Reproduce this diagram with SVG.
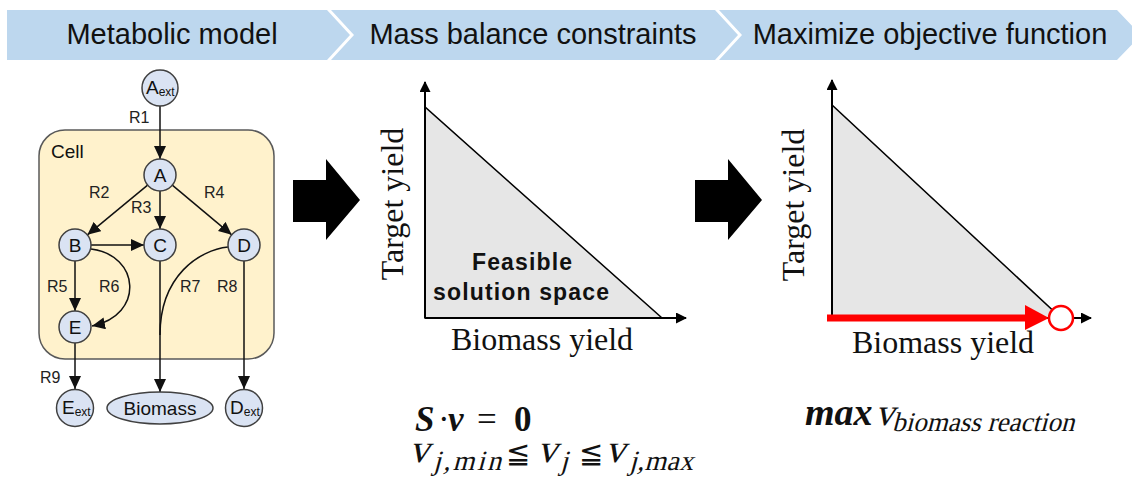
<svg xmlns="http://www.w3.org/2000/svg" width="1132" height="493" viewBox="0 0 1132 493">
<style>
.hdr{fill:#BDD7EE}
.ht{font-family:"Liberation Sans",Arial,sans-serif;font-size:29px;fill:#111}
.nd{fill:#DAE3F3;stroke:#404040;stroke-width:1.5}
.nt{font-family:"Liberation Sans",Arial,sans-serif;font-size:19px;fill:#111}
.sub{font-size:12px}
.lb{font-family:"Liberation Sans",Arial,sans-serif;font-size:16px;fill:#222}
.ed{fill:none;stroke:#111;stroke-width:1.5}
.ax{fill:none;stroke:#000;stroke-width:2}
.tri{fill:#E6E6E6;stroke:#000;stroke-width:1.5}
.serif{font-family:"Liberation Serif",serif;fill:#111}
.rel{font-family:"DejaVu Serif",serif;font-size:29px;fill:#111}
</style>
<defs>
<marker id="ah" markerUnits="userSpaceOnUse" markerWidth="13" markerHeight="12" refX="13" refY="6" orient="auto">
<path d="M0,0 L13,6 L0,12 z" fill="#111"/>
</marker>
<marker id="axh" markerUnits="userSpaceOnUse" markerWidth="11" markerHeight="11" refX="10" refY="5.5" orient="auto">
<path d="M0,0 L11,5.5 L0,11 z" fill="#000"/>
</marker>
</defs>

<g id="header">
<polygon class="hdr" points="7,10 327,10 350,35 327,60 7,60"/>
<polygon class="hdr" points="331,10 715,10 738,35 715,60 331,60 354,35"/>
<polygon class="hdr" points="719,10 1117,10 1141,35 1117,60 719,60 742,35"/>
<text class="ht" x="172" y="44" text-anchor="middle">Metabolic model</text>
<text class="ht" x="533" y="44" text-anchor="middle">Mass balance constraints</text>
<text class="ht" x="930" y="44" text-anchor="middle">Maximize objective function</text>
</g>

<g id="cell">
<rect x="39" y="130" width="235" height="229" rx="26" ry="26" fill="#FFF2CC" stroke="#595959" stroke-width="1.5"/>
<text class="nt" x="51" y="158">Cell</text>
</g>

<g id="connectors">
<line class="ed" x1="160" y1="106" x2="160" y2="159" marker-end="url(#ah)"/>
<line class="ed" x1="147.6" y1="185.2" x2="87.4" y2="234.8" marker-end="url(#ah)"/>
<line class="ed" x1="160" y1="191" x2="160" y2="229" marker-end="url(#ah)"/>
<line class="ed" x1="172.3" y1="185.2" x2="231.7" y2="234.8" marker-end="url(#ah)"/>
<line class="ed" x1="91" y1="245" x2="144" y2="245" marker-end="url(#ah)"/>
<line class="ed" x1="75" y1="261" x2="75" y2="311" marker-end="url(#ah)"/>
<path class="ed" d="M91,249 C140,255 145,315 92,326" marker-end="url(#ah)"/>
<path class="ed" d="M228,247 C200,250 160,275 160,335"/>
<line class="ed" x1="160" y1="261" x2="160" y2="392" marker-end="url(#ah)"/>
<line class="ed" x1="244" y1="261" x2="244" y2="389" marker-end="url(#ah)"/>
<line class="ed" x1="75" y1="343" x2="75" y2="389" marker-end="url(#ah)"/>
<text class="lb" x="129" y="123">R1</text>
<text class="lb" x="89" y="198">R2</text>
<text class="lb" x="131" y="213">R3</text>
<text class="lb" x="204" y="198">R4</text>
<text class="lb" x="47" y="292">R5</text>
<text class="lb" x="99" y="292">R6</text>
<text class="lb" x="180" y="292">R7</text>
<text class="lb" x="217" y="292">R8</text>
<text class="lb" x="40" y="383">R9</text>
</g>

<g id="node-Aext">
<circle class="nd" cx="160" cy="88" r="18"/>
<text class="nt" x="146" y="94">A<tspan class="sub" dy="2">ext</tspan></text>
</g>
<g id="node-A">
<circle class="nd" cx="160" cy="175" r="16"/>
<text class="nt" x="160" y="182" text-anchor="middle">A</text>
</g>
<g id="node-B">
<circle class="nd" cx="75" cy="245" r="16"/>
<text class="nt" x="75" y="252" text-anchor="middle">B</text>
</g>
<g id="node-C">
<circle class="nd" cx="160" cy="245" r="16"/>
<text class="nt" x="160" y="252" text-anchor="middle">C</text>
</g>
<g id="node-D">
<circle class="nd" cx="244" cy="245" r="16"/>
<text class="nt" x="244" y="252" text-anchor="middle">D</text>
</g>
<g id="node-E">
<circle class="nd" cx="75" cy="327" r="16"/>
<text class="nt" x="75" y="334" text-anchor="middle">E</text>
</g>
<g id="node-Eext">
<circle class="nd" cx="75" cy="408" r="18.5"/>
<text class="nt" x="62" y="414">E<tspan class="sub" dy="2">ext</tspan></text>
</g>
<g id="node-Biomass">
<ellipse class="nd" cx="160" cy="408" rx="53" ry="16"/>
<text class="nt" x="160" y="415" text-anchor="middle">Biomass</text>
</g>
<g id="node-Dext">
<circle class="nd" cx="244" cy="408" r="18.5"/>
<text class="nt" x="230" y="414">D<tspan class="sub" dy="2">ext</tspan></text>
</g>

<g id="arrow1">
<polygon points="293,180 326,180 326,159 360,200 326,240 326,222 293,222" fill="#000"/>
</g>
<g id="arrow2">
<polygon points="695,180 728,180 728,159 762,200 728,240 728,222 695,222" fill="#000"/>
</g>

<g id="chart1">
<polygon class="tri" points="425,107 425,318 662,318"/>
<line class="ax" x1="425" y1="318" x2="425" y2="82" marker-end="url(#axh)"/>
<line class="ax" x1="425" y1="318" x2="686" y2="318" marker-end="url(#axh)"/>
<text x="522" y="270" text-anchor="middle" font-family="Liberation Sans,Arial,sans-serif" font-weight="bold" font-size="23" fill="#111" textLength="100">Feasible</text>
<text x="521" y="300" text-anchor="middle" font-family="Liberation Sans,Arial,sans-serif" font-weight="bold" font-size="23" fill="#111" textLength="176">solution space</text>
<text class="serif" font-size="32" transform="translate(403,204) rotate(-90)" text-anchor="middle">Target yield</text>
<text class="serif" font-size="32" x="542" y="350" text-anchor="middle">Biomass yield</text>
</g>

<g id="chart2">
<polygon class="tri" points="832,105 832,318 1061,318"/>
<line class="ax" x1="832" y1="318" x2="832" y2="80" marker-end="url(#axh)"/>
<line class="ax" x1="832" y1="318" x2="1091" y2="318" marker-end="url(#axh)"/>
<line x1="827" y1="318" x2="1027" y2="318" stroke="#FF0000" stroke-width="7"/>
<polygon points="1025,305 1049,318 1025,330" fill="#FF0000"/>
<circle cx="1061" cy="318" r="12" fill="#fff" stroke="#FF0000" stroke-width="2.5"/>
<text class="serif" font-size="32" transform="translate(804,205) rotate(-90)" text-anchor="middle">Target yield</text>
<text class="serif" font-size="32" x="943" y="353" text-anchor="middle">Biomass yield</text>
</g>

<g id="equations">
<text class="serif" font-size="35" y="431"><tspan x="415" font-weight="bold" font-style="italic">S</tspan><tspan x="438">·</tspan><tspan x="448" font-weight="bold" font-style="italic">v</tspan><tspan x="477">=</tspan><tspan x="514" font-weight="bold">0</tspan></text>
<text class="serif" font-size="40" transform="translate(409,462) skewX(-15)">v</text>
<text class="serif" font-size="28" transform="translate(433,470) skewX(-15)" textLength="68">j,min</text>
<text class="rel" x="506" y="463">≦</text>
<text class="serif" font-size="40" transform="translate(537,462) skewX(-15)">v</text>
<text class="serif" font-size="28" transform="translate(560,470) skewX(-15)">j</text>
<text class="rel" x="579" y="463">≦</text>
<text class="serif" font-size="40" transform="translate(605,462) skewX(-15)">v</text>
<text class="serif" font-size="28" transform="translate(629,470) skewX(-15)" textLength="64">j,max</text>
<text class="serif" font-size="38" font-weight="bold" font-style="italic" x="805" y="425">max</text>
<text class="serif" font-size="38" transform="translate(875,425) skewX(-15)">v</text>
<text class="serif" font-size="27" transform="translate(892,431) skewX(-15)">biomass reaction</text>
</g>
</svg>
